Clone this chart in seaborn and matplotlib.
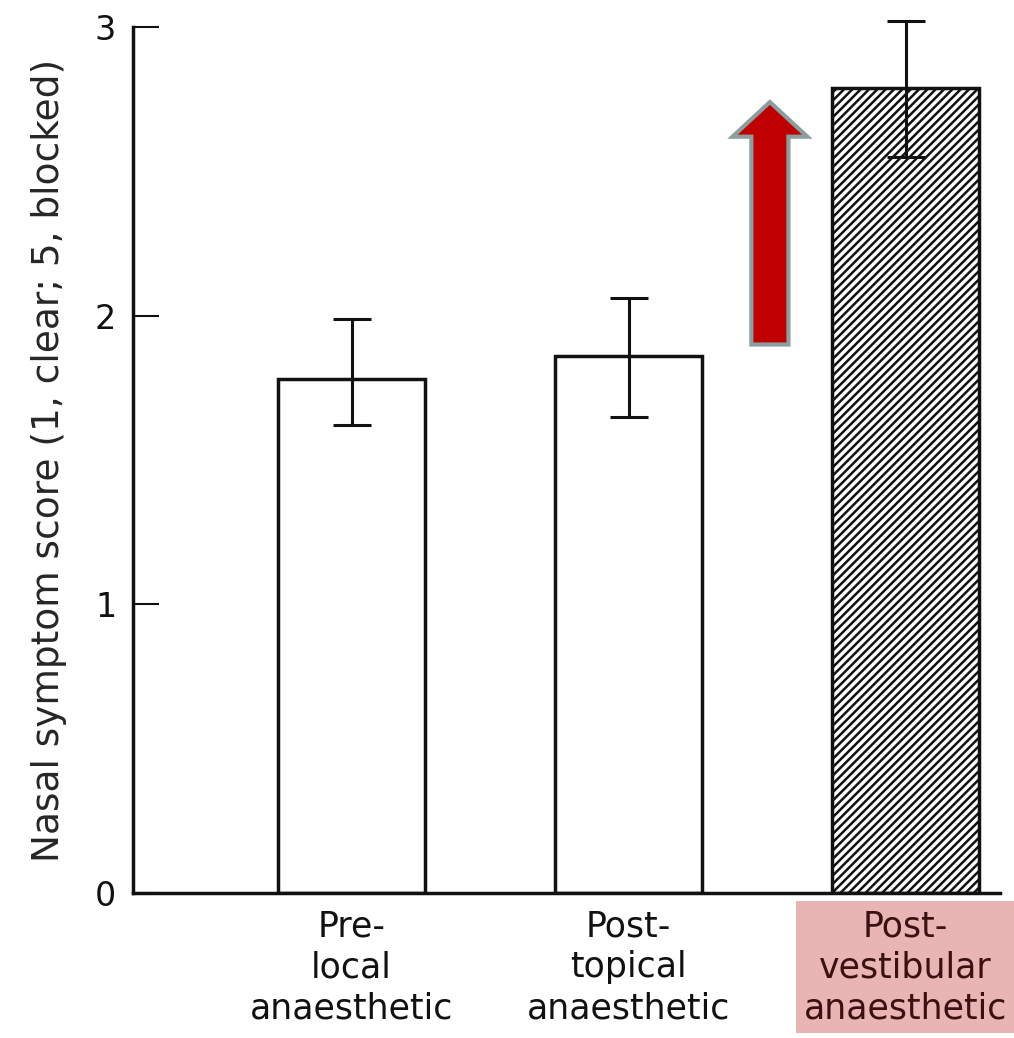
import matplotlib
matplotlib.use("Agg")
import matplotlib.pyplot as plt
import seaborn as sns
from matplotlib.patches import FancyArrow

# values
categories = ["Pre-\nlocal\nanaesthetic", "Post-\ntopical\nanaesthetic", "Post-\nvestibular\nanaesthetic"]
scores = [1.78, 1.86, 2.79]
err_low = [0.16, 0.21, 0.24]
err_high = [0.21, 0.20, 0.23]
yticks = [0, 1, 2, 3]

sns.set_style("white")
plt.rcParams["font.family"] = ["DejaVu Sans"]
plt.rcParams["hatch.linewidth"] = 1.8

fig = plt.figure(figsize=(10.14, 10.38), dpi=100)
ax = fig.add_axes([0.131, 0.1397, 0.855, 0.8343])

sns.barplot(x=categories, y=scores, errorbar=None, width=0.53,
            color="white", edgecolor="black", linewidth=2.5, ax=ax)

for i, patch in enumerate(ax.patches):
    patch.set_facecolor("white")
    patch.set_edgecolor("#111111")
    if i == 2:
        patch.set_hatch("////")

eb = ax.errorbar(range(len(scores)), scores, yerr=[err_low, err_high], fmt="none",
                 ecolor="#111111", elinewidth=2.2, capsize=14, capthick=2.2, zorder=5)
for art in eb.lines[1] + eb.lines[2]:
    art.set_clip_on(False)

# red arrow annotation
arrow = FancyArrow(1.51, 1.90, 0, 0.84, width=0.134, head_width=0.27,
                   head_length=0.12, length_includes_head=True,
                   facecolor="#C00000", edgecolor="#8AA0A0", linewidth=3, zorder=6)
ax.add_patch(arrow)

ax.set_xlim(-0.79, 2.34)
ax.set_ylim(0, 3)
ax.set_yticks(yticks)
ax.set_yticklabels([str(t) for t in yticks])
ax.set_ylabel("Nasal symptom score (1, clear; 5, blocked)", fontsize=27, labelpad=20)

sns.despine(ax=ax)
for side in ["left", "bottom"]:
    ax.spines[side].set_linewidth(2.5)
    ax.spines[side].set_color("#111111")

ax.tick_params(axis="y", left=True, direction="in", length=19, width=1.5,
               labelsize=24, pad=12, colors="#111111")
ax.tick_params(axis="x", bottom=False, length=0, labelsize=25, pad=12, colors="#111111")
for lab in ax.get_xticklabels():
    lab.set_linespacing(1.25)
ax.get_xticklabels()[2].set_bbox(dict(facecolor="#E8B4B4", edgecolor="none", pad=6))
ax.get_xticklabels()[2].set_color("#3a1010")

fig.savefig("out.png", dpi=100)
